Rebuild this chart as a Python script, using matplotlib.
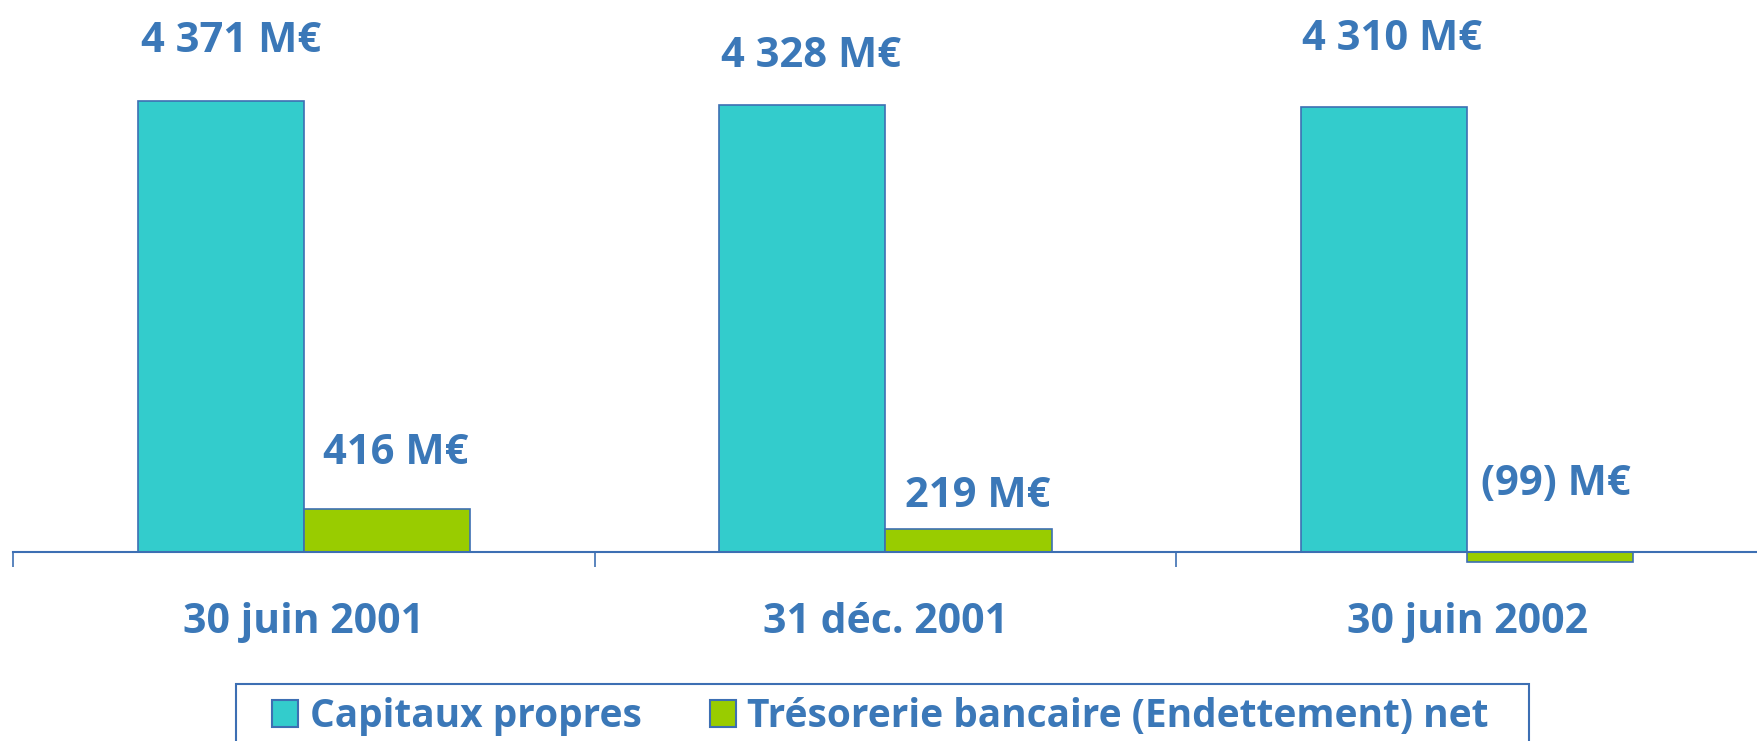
import matplotlib
matplotlib.use("Agg")
import matplotlib.pyplot as plt
import matplotlib.patches as mpatches
import numpy as np

# ---- data ----
categories = ["30 juin 2001", "31 déc. 2001", "30 juin 2002"]
series_names = ["Capitaux propres", "Trésorerie bancaire (Endettement) net"]
capitaux = [4371, 4328, 4310]
tresorerie = [416, 219, -99]

# ---- style ----
TEAL = "#33CCCC"
GREEN = "#99CC00"
EDGE = "#3D6FB3"
TXT = "#3B78B8"
FONT = ["Open Sans", "DejaVu Sans"]
plt.rcParams["font.family"] = FONT
FS_VAL = 30
FS_CAT = 29.5
FS_LEG = 28

W, H = 1758, 741
fig = plt.figure(figsize=(W / 100, H / 100), dpi=100)
left_px = 13.0
cat_px = 587.0
zero_px = 551.6
ppu = 0.10311
ax = fig.add_axes([left_px / W, 0, 1 - left_px / W, 1])
ax.set_xlim(-0.5, -0.5 + (W - left_px) / cat_px)
ax.set_ylim(-(H - zero_px) / ppu, zero_px / ppu)
ax.patch.set_alpha(0)

x = np.arange(len(categories))
w = 0.2855
ax.bar(x - w / 2, capitaux, w, color=TEAL, edgecolor=EDGE, linewidth=1.2, zorder=2)
ax.bar(x + w / 2, tresorerie, w, color=GREEN, edgecolor=EDGE, linewidth=1.2, zorder=2)

def fmt(v):
    if v < 0:
        return f"({abs(v)}) M€"
    return f"{v:,}".replace(",", " ") + " M€"

cap_off = [(10, 49), (9, 38), (8, 57)]
tre_off = [(9, 45), (9, 22), (6, 57)]
for i, v in enumerate(capitaux):
    ax.annotate(fmt(v), xy=(x[i] - w / 2, max(v, 0)), xytext=cap_off[i],
                textcoords="offset pixels", ha="center", va="baseline",
                fontsize=FS_VAL, fontweight="bold", color=TXT)
for i, v in enumerate(tresorerie):
    ax.annotate(fmt(v), xy=(x[i] + w / 2, max(v, 0)), xytext=tre_off[i],
                textcoords="offset pixels", ha="center", va="baseline",
                fontsize=FS_VAL, fontweight="bold", color=TXT)

# axis
for s in ["left", "right", "top"]:
    ax.spines[s].set_visible(False)
ax.spines["bottom"].set_position(("data", 0))
ax.spines["bottom"].set_color(EDGE)
ax.spines["bottom"].set_linewidth(1.5)
ax.set_yticks([])
ax.set_xticks(np.arange(len(categories) + 1) - 0.5)
ax.set_xticklabels([])
ax.tick_params(axis="x", direction="out", length=10.8, width=1.2, color=EDGE)

for i, c in enumerate(categories):
    ax.annotate(c, xy=(x[i], 0), xytext=(0, -81), textcoords="offset pixels",
                ha="center", va="baseline", fontsize=FS_CAT, fontweight="bold", color=TXT)

# legend
handles = [mpatches.Patch(facecolor=TEAL, edgecolor=EDGE, linewidth=1.5),
           mpatches.Patch(facecolor=GREEN, edgecolor=EDGE, linewidth=1.5)]
leg = fig.legend(handles, series_names, loc="upper left",
                 bbox_to_anchor=(272 / W, 1 - 697 / H), frameon=False, ncol=2,
                 borderpad=0, borderaxespad=0, handlelength=0.67, handleheight=0.67,
                 handletextpad=0.3, columnspacing=1.75,
                 prop={"family": FONT, "weight": "bold", "size": FS_LEG})
for t in leg.get_texts():
    t.set_color(TXT)

frame = mpatches.Rectangle((236 / W, -0.05), (1529 - 236) / W, (1 - 684 / H) + 0.05,
                           transform=fig.transFigure, fill=False, edgecolor=EDGE,
                           linewidth=1.5)
fig.patches.append(frame)

fig.savefig("out.png", dpi=100)
